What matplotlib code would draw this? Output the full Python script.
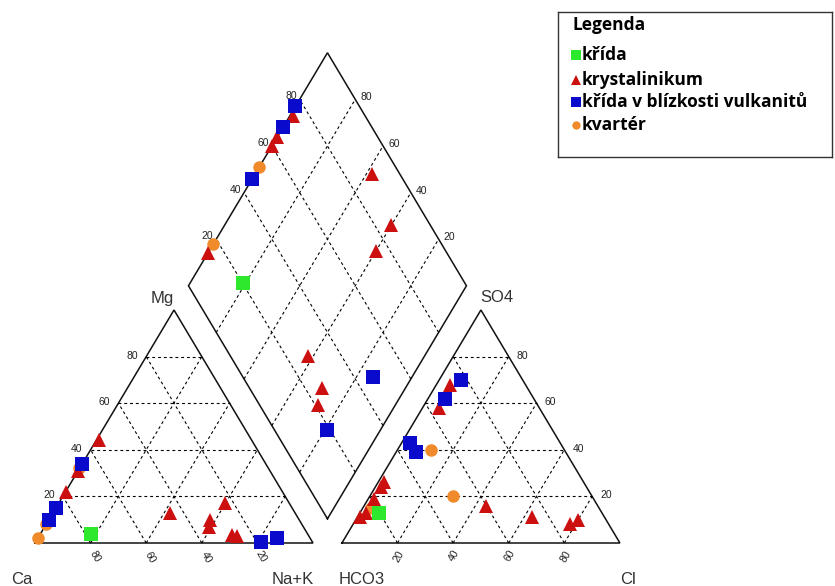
import matplotlib.pyplot as plt
import numpy as np

H = np.sqrt(3) / 2
GAP = 0.104  # space between the two triangles

GROUPS = ["křída", "krystalinikum", "křída v blízkosti vulkanitů", "kvartér"]
COLORS = ["#2ee82e", "#cc1010", "#0a0acc", "#f08a2a"]
MARKERS = ["s", "^", "s", "o"]
SIZES = [9.5, 10.5, 9.5, 9]

# cation triangle (% Mg, % Na+K)
CAT_MG = [[4], [44, 31, 22, 13, 17, 10, 7, 3.5, 3], [34, 15, 10, 0.5, 2], [32, 8, 2]]
CAT_NAK = [[18], [1, 0, 0, 42, 60, 58, 59, 69, 71], [0, 0, 0, 81, 86], [0, 0, 0]]

# anion triangle (% SO4, % Cl)
AN_SO4 = [[13], [26, 24, 19, 13, 11, 68, 58, 16, 11, 8, 10], [43, 39, 70, 62], [15, 40, 20]]
AN_CL = [[7], [2, 2, 2, 2, 1, 5, 6, 44, 63, 78, 80], [3, 7, 8, 6], [3, 12, 30]]

# diamond (% Ca+Mg, % SO4+Cl)
DIA_CAMG = [[81], [99, 100, 100, 100, 58, 40, 40, 42, 30, 28], [100, 100, 100, 19, 14], [100, 100]]
DIA_SO4CL = [[20], [74, 64, 60, 14, 90, 86, 75, 28, 26, 21], [77, 68, 46, 19, 47], [51, 18]]

TICKS = [20, 40, 60, 80]
DRAW_ORDER = [3, 1, 2, 0]

# diamond base vectors
B = np.array([1 + GAP / 2, GAP * H])
U = np.array([-0.5, H])
V = np.array([0.5, H])


def cation_xy(mg, nak):
    mg = np.asarray(mg) / 100
    nak = np.asarray(nak) / 100
    return nak + mg / 2, mg * H


def anion_xy(so4, cl):
    so4 = np.asarray(so4) / 100
    cl = np.asarray(cl) / 100
    return 1 + GAP + cl + so4 / 2, so4 * H


def diamond_xy(camg, so4cl):
    a = np.asarray(camg) / 100
    b = np.asarray(so4cl) / 100
    p = B[:, None] + np.outer(U, a) + np.outer(V, b)
    return p[0], p[1]


fig = plt.figure(figsize=(8.35, 5.86), dpi=100)
ax = fig.add_axes([0, 0, 1, 1])
X0, Y0, SX, SY = 35, 543, 278, 233 / H
ax.set_xlim(-X0 / SX, (835 - X0) / SX)
ax.set_ylim(-(586 - Y0) / SY, Y0 / SY)
ax.axis("off")

outline = dict(color="#111111", lw=1.1, solid_joinstyle="miter")
grid = dict(color="black", lw=0.8, linestyle=(0, (2.6, 2.6)))
tick_font = dict(fontsize=7.5, family="Liberation Sans", color="#222222")
corner_font = dict(fontsize=12, family="Liberation Sans", color="#333333")

# outlines
x, y = cation_xy([0, 0, 100, 0], [0, 100, 0, 0])
ax.plot(x, y, **outline)
x, y = anion_xy([0, 0, 100, 0], [0, 100, 0, 0])
ax.plot(x, y, **outline)
x, y = diamond_xy([0, 100, 100, 0, 0], [0, 0, 100, 100, 0])
ax.plot(x, y, **outline)

for t in TICKS:
    r = 100 - t
    # dashed grid: one line per component held constant
    for f in (cation_xy, anion_xy):
        for a, b in (([t, t], [0, r]), ([0, r], [t, t]), ([0, r], [r, 0])):
            x, y = f(a, b)
            ax.plot(x, y, **grid)
    x, y = diamond_xy([t, t], [0, 100])
    ax.plot(x, y, **grid)
    x, y = diamond_xy([0, 100], [t, t])
    ax.plot(x, y, **grid)

    # tick labels
    x, y = cation_xy([t], [0])
    ax.annotate(str(t), (x[0], y[0]), xytext=(-8, 1), textcoords="offset pixels",
                ha="right", va="center", **tick_font)
    x, y = cation_xy([0], [t])
    ax.annotate(str(100 - t), (x[0], y[0]), xytext=(4, -14), textcoords="offset pixels",
                ha="center", va="center", rotation=-60, **tick_font)
    x, y = anion_xy([t], [100 - t])
    ax.annotate(str(t), (x[0], y[0]), xytext=(8, 1), textcoords="offset pixels",
                ha="left", va="center", **tick_font)
    x, y = anion_xy([0], [t])
    ax.annotate(str(t), (x[0], y[0]), xytext=(1, -13), textcoords="offset pixels",
                ha="center", va="center", rotation=60, **tick_font)
    x, y = diamond_xy([100], [t])
    ax.annotate(str(t), (x[0], y[0]), xytext=(-3, 3), textcoords="offset pixels",
                ha="right", va="center", **tick_font)
    x, y = diamond_xy([t], [100])
    ax.annotate(str(t), (x[0], y[0]), xytext=(5, 2), textcoords="offset pixels",
                ha="left", va="center", **tick_font)

# corner labels
corners = [
    ("Mg", cation_xy([100], [0]), (-12, 12)),
    ("Ca", cation_xy([0], [0]), (-13, -37)),
    ("Na+K", cation_xy([0], [100]), (-20, -37)),
    ("SO4", anion_xy([100], [0]), (16, 12)),
    ("HCO3", anion_xy([0], [0]), (20, -37)),
    ("Cl", anion_xy([0], [100]), (8, -37)),
]
for label, (x, y), off in corners:
    ax.annotate(label, (x[0], y[0]), xytext=off, textcoords="offset pixels",
                ha="center", va="center", **corner_font)

# data points
for i in DRAW_ORDER:
    style = dict(marker=MARKERS[i], color=COLORS[i], ms=SIZES[i], mew=0, ls="none")
    ax.plot(*cation_xy(CAT_MG[i], CAT_NAK[i]), **style)
    ax.plot(*anion_xy(AN_SO4[i], AN_CL[i]), **style)
    ax.plot(*diamond_xy(DIA_CAMG[i], DIA_SO4CL[i]), **style)

# legend box (pixel coordinates inside the box)
leg = fig.add_axes([558 / 835, 1 - 157 / 586, 274 / 835, 145 / 586])
leg.set_xlim(0, 274)
leg.set_ylim(145, 0)
leg.set_xticks([])
leg.set_yticks([])
for s in leg.spines.values():
    s.set_color("#333333")
    s.set_linewidth(1.0)
leg_font = dict(family=["Open Sans", "DejaVu Sans"], fontweight="bold", fontsize=12.5,
                color="black")
leg.text(14, 13, "Legenda", ha="left", va="center", **leg_font)
leg_y = [43, 68, 90, 113]
for i, name in enumerate(GROUPS):
    leg.plot([18], [leg_y[i]], marker=MARKERS[i], color=COLORS[i], ms=SIZES[i] - 3, mew=0)
    leg.text(24, leg_y[i], name, ha="left", va="center", **leg_font)

fig.savefig("out.png", dpi=100)
